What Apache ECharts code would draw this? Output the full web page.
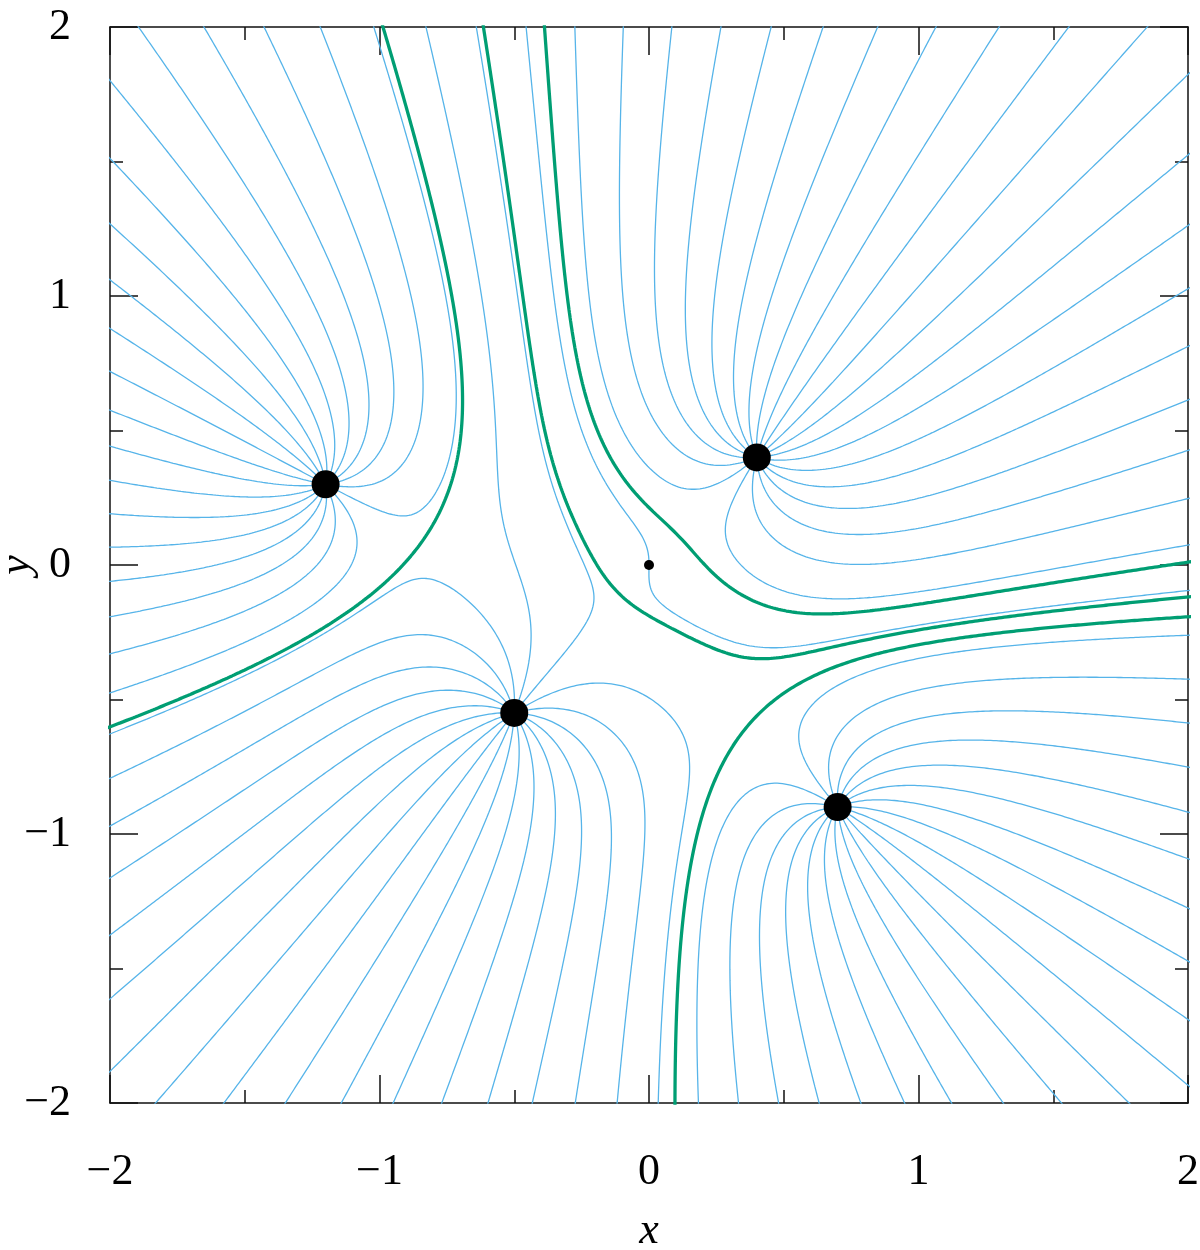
<!DOCTYPE html>
<html>
<head>
<meta charset="utf-8">
<script src="https://cdn.jsdelivr.net/npm/echarts@6/dist/echarts.min.js"></script>
<style>html,body{margin:0;padding:0;background:#fff}#chart{width:1200px;height:1250px}</style>
</head>
<body>
<div id="chart"></div>
<script>
// ---- Data ----
// Attracting points (sinks) of the flow: positions, relative strengths
const sinkX = [-1.2, 0.4, -0.5, 0.7, 0.0];
const sinkY = [0.3, 0.4, -0.55, -0.9, 0.0];
const sinkStrength = [1, 1, 1, 1, 0.1];
const sinkDotSize = [28, 28, 28, 28, 10];
// 20 streamlines end in each large sink; 2 in the small one at the origin
const linesPerUnit = 20;
// the upper streamline reaches the origin from straight above (deg)
const originLineAngleDeg = 90;
const xTickValues = [-2, -1, 0, 1, 2];
const yTickValues = [-2, -1, 0, 1, 2];

const BLUE = '#56B4E9', GREEN = '#009E73';
const FONT = '"Liberation Serif", "DejaVu Serif", serif';
const n = sinkX.length;

// field of the sinks: f(z) = sum q/(z - zi)
function fval(x, y) {
  let re = 0, im = 0;
  for (let i = 0; i < n; i++) {
    const dx = x - sinkX[i], dy = y - sinkY[i], d2 = dx * dx + dy * dy;
    re += sinkStrength[i] * dx / d2; im -= sinkStrength[i] * dy / d2;
  }
  return [re, im];
}
function fder(x, y) {
  let re = 0, im = 0;
  for (let i = 0; i < n; i++) {
    const dx = x - sinkX[i], dy = y - sinkY[i], d2 = dx * dx + dy * dy, d4 = d2 * d2;
    re -= sinkStrength[i] * (dx * dx - dy * dy) / d4;
    im -= sinkStrength[i] * (-2 * dx * dy) / d4;
  }
  return [re, im];
}
// direction pointing away from the sinks (streamlines traced backwards)
function dir(x, y) {
  const f = fval(x, y);
  const ex = f[0], ey = -f[1];
  const m = Math.hypot(ex, ey) || 1e-12;
  return [ex / m, ey / m];
}
function trace(x0, y0, h, maxSteps) {
  const pts = [[x0, y0]];
  let x = x0, y = y0;
  for (let s = 0; s < maxSteps; s++) {
    const k1 = dir(x, y);
    const k2 = dir(x + h / 2 * k1[0], y + h / 2 * k1[1]);
    const k3 = dir(x + h / 2 * k2[0], y + h / 2 * k2[1]);
    const k4 = dir(x + h * k3[0], y + h * k3[1]);
    x += h / 6 * (k1[0] + 2 * k2[0] + 2 * k3[0] + k4[0]);
    y += h / 6 * (k1[1] + 2 * k2[1] + 2 * k3[1] + k4[1]);
    pts.push([x, y]);
    if (Math.abs(x) > 2.03 || Math.abs(y) > 2.03) break;
  }
  return pts;
}

// ---- streamlines ending in each sink ----
const blueLines = [];
const S = sinkX.map((xj, j) => {
  let s = 0;
  for (let i = 0; i < n; i++) if (i !== j) s += sinkStrength[i] * Math.atan2(sinkY[j] - sinkY[i], xj - sinkX[i]);
  return s;
});
const oi = n - 1;
const c0 = sinkStrength[oi] * originLineAngleDeg * Math.PI / 180 + S[oi];
const dPsi = 2 * Math.PI / linesPerUnit;
for (let j = 0; j < n; j++) {
  const cnt = Math.round(sinkStrength[j] * linesPerUnit);
  for (let k = 0; k < cnt; k++) {
    const th = (c0 + k * dPsi - S[j]) / sinkStrength[j];
    const r0 = 0.004;
    blueLines.push(trace(sinkX[j] + r0 * Math.cos(th), sinkY[j] + r0 * Math.sin(th), 0.005, 3000));
  }
}

// ---- separatrices through the saddle points ----
const saddles = [];
for (let gx = -2.5; gx <= 2.5; gx += 0.25) {
  for (let gy = -2.5; gy <= 2.5; gy += 0.25) {
    let x = gx, y = gy, ok = true;
    for (let it = 0; it < 100; it++) {
      const f = fval(x, y), d = fder(x, y);
      const den = d[0] * d[0] + d[1] * d[1];
      if (!(den > 1e-14)) { ok = false; break; }
      let sx = (f[0] * d[0] + f[1] * d[1]) / den, sy = (f[1] * d[0] - f[0] * d[1]) / den;
      const sm = Math.hypot(sx, sy);
      if (sm > 0.3) { sx *= 0.3 / sm; sy *= 0.3 / sm; }
      x -= sx; y -= sy;
      if (!isFinite(x) || !isFinite(y)) { ok = false; break; }
    }
    if (!ok) continue;
    const f = fval(x, y);
    if (Math.hypot(f[0], f[1]) > 1e-8) continue;
    if (Math.abs(x) > 2.5 || Math.abs(y) > 2.5) continue;
    let nearSink = false;
    for (let i = 0; i < n; i++) if (Math.hypot(x - sinkX[i], y - sinkY[i]) < 0.02) nearSink = true;
    if (nearSink) continue;
    if (saddles.some(p => Math.hypot(p[0] - x, p[1] - y) < 1e-4)) continue;
    saddles.push([x, y]);
  }
}
const greenLines = saddles.map(s => {
  const a = fder(s[0], s[1]);
  const ang = -Math.atan2(a[1], a[0]) / 2;
  const ux = Math.cos(ang), uy = Math.sin(ang), d = 1e-4;
  const b1 = trace(s[0] + d * ux, s[1] + d * uy, 0.005, 3000);
  const b2 = trace(s[0] - d * ux, s[1] - d * uy, 0.005, 3000);
  return b1.reverse().concat([s], b2);
});

const series = [];
blueLines.forEach(p => series.push({
  type: 'line', data: p, showSymbol: false, symbol: 'none', silent: true, animation: false,
  lineStyle: { color: BLUE, width: 1.3 }, z: 2, clip: true
}));
greenLines.forEach(p => series.push({
  type: 'line', data: p, showSymbol: false, symbol: 'none', silent: true, animation: false,
  lineStyle: { color: GREEN, width: 3.3 }, z: 3, clip: true
}));
series.push({
  type: 'scatter', silent: true, animation: false, z: 5,
  data: sinkX.map((x, i) => ({ value: [x, sinkY[i]], symbolSize: sinkDotSize[i] })),
  itemStyle: { color: '#000', opacity: 1, borderWidth: 0 }
});

const fmt = v => (v < 0 ? '\u2212' + Math.abs(v) : String(v));
function axis(pos, showLabel, ticks, extra) {
  return Object.assign({
    type: 'value', min: -2, max: 2, interval: 1, position: pos,
    axisLine: { show: true, onZero: false, lineStyle: { color: '#111', width: 1.5 } },
    axisTick: { show: true, inside: true, length: 28, lineStyle: { color: '#111', width: 1.5 } },
    minorTick: { show: true, splitNumber: 2, length: 13, lineStyle: { color: '#111', width: 1.5 } },
    splitLine: { show: false }, minorSplitLine: { show: false },
    axisLabel: {
      show: showLabel, fontFamily: FONT, fontSize: 44, color: '#000',
      formatter: v => (ticks.indexOf(v) >= 0 ? fmt(v) : '')
    }
  }, extra || {});
}

const option = {
  animation: false,
  backgroundColor: '#fff',
  grid: { left: 110, right: 12, top: 27, bottom: 147, containLabel: false, outerBoundsMode: 'none' },
  xAxis: [
    axis('bottom', true, xTickValues, {
      name: 'x', nameLocation: 'middle', nameGap: 106, nameMoveOverlap: false,
      nameTextStyle: { fontFamily: FONT, fontSize: 44, fontStyle: 'italic', color: '#000' }
    }),
    axis('top', false, xTickValues)
  ],
  yAxis: [
    axis('left', true, yTickValues, {
      name: 'y', nameLocation: 'middle', nameGap: 71, nameRotate: 90, nameMoveOverlap: false,
      nameTextStyle: { fontFamily: FONT, fontSize: 44, fontStyle: 'italic', color: '#000' }
    }),
    axis('right', false, yTickValues)
  ],
  series: series
};
option.xAxis[0].axisLabel.margin = 47;
option.yAxis[0].axisLabel.margin = 39;

const chart = echarts.init(document.getElementById('chart'), null, { renderer: 'canvas' });
chart.setOption(option);
</script>
</body>
</html>
